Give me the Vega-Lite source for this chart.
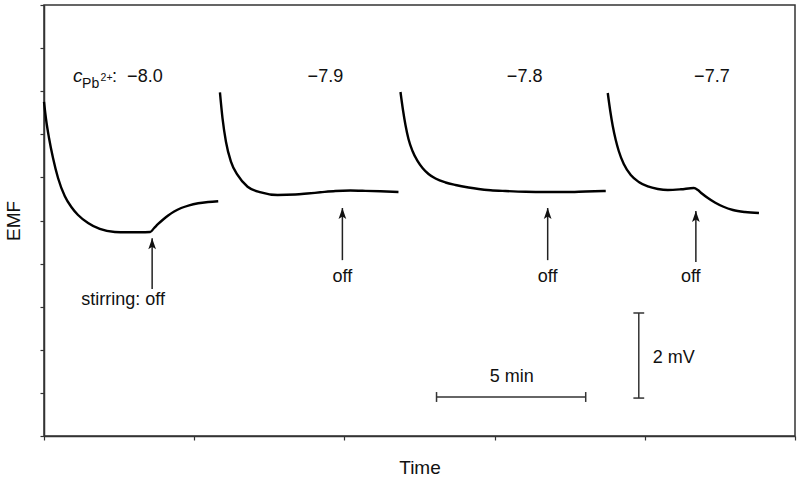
{
  "$schema": "https://vega.github.io/schema/vega-lite/v6.json",
  "width": 751,
  "height": 431,
  "autosize": {"type": "none"},
  "padding": {"left": 44, "top": 5, "right": 5, "bottom": 47},
  "background": "white",
  "config": {
    "font": "Liberation Sans",
    "view": {"stroke": "#333333", "strokeWidth": 1.5},
    "axis": {
      "grid": false,
      "labels": false,
      "domainColor": "#333333",
      "domainWidth": 1.5,
      "tickColor": "#333333",
      "tickWidth": 1.2,
      "tickSize": 4,
      "titleFont": "Liberation Sans",
      "titleFontSize": 19,
      "titleFontWeight": "normal",
      "titleColor": "#111111"
    }
  },
  "datasets": {
    "curves": [
      {"seg": 1, "t": 0, "v": 7.75}, {"seg": 1, "t": 0.067, "v": 7.355}, {"seg": 1, "t": 0.167, "v": 6.914},
      {"seg": 1, "t": 0.3, "v": 6.45}, {"seg": 1, "t": 0.467, "v": 5.986}, {"seg": 1, "t": 0.69, "v": 5.568},
      {"seg": 1, "t": 0.91, "v": 5.313}, {"seg": 1, "t": 1.133, "v": 5.128}, {"seg": 1, "t": 1.467, "v": 4.942},
      {"seg": 1, "t": 1.857, "v": 4.803}, {"seg": 1, "t": 2.357, "v": 4.733}, {"seg": 1, "t": 2.733, "v": 4.726},
      {"seg": 1, "t": 3.2, "v": 4.726}, {"seg": 1, "t": 3.533, "v": 4.733},
      {"seg": 1, "t": 3.667, "v": 4.826}, {"seg": 1, "t": 3.8, "v": 4.919}, {"seg": 1, "t": 3.967, "v": 5.023},
      {"seg": 1, "t": 4.133, "v": 5.116}, {"seg": 1, "t": 4.333, "v": 5.209}, {"seg": 1, "t": 4.567, "v": 5.29},
      {"seg": 1, "t": 4.833, "v": 5.353}, {"seg": 1, "t": 5.133, "v": 5.399}, {"seg": 1, "t": 5.467, "v": 5.429},
      {"seg": 1, "t": 5.8, "v": 5.448},
      {"seg": 2, "t": 5.857, "v": 7.975}, {"seg": 2, "t": 5.943, "v": 7.371}, {"seg": 2, "t": 6.057, "v": 6.828},
      {"seg": 2, "t": 6.223, "v": 6.364}, {"seg": 2, "t": 6.443, "v": 6.056}, {"seg": 2, "t": 6.777, "v": 5.784},
      {"seg": 2, "t": 7.223, "v": 5.654}, {"seg": 2, "t": 7.777, "v": 5.592}, {"seg": 2, "t": 8.367, "v": 5.603},
      {"seg": 2, "t": 8.767, "v": 5.626}, {"seg": 2, "t": 9.2, "v": 5.654}, {"seg": 2, "t": 9.7, "v": 5.684},
      {"seg": 2, "t": 10.2, "v": 5.695}, {"seg": 2, "t": 10.7, "v": 5.688}, {"seg": 2, "t": 11.2, "v": 5.677},
      {"seg": 2, "t": 11.8, "v": 5.661},
      {"seg": 3, "t": 11.867, "v": 7.981}, {"seg": 3, "t": 11.95, "v": 7.564}, {"seg": 3, "t": 12.033, "v": 7.216},
      {"seg": 3, "t": 12.133, "v": 6.891}, {"seg": 3, "t": 12.267, "v": 6.613}, {"seg": 3, "t": 12.433, "v": 6.381},
      {"seg": 3, "t": 12.6, "v": 6.218}, {"seg": 3, "t": 12.8, "v": 6.079}, {"seg": 3, "t": 13.033, "v": 5.974},
      {"seg": 3, "t": 13.367, "v": 5.882}, {"seg": 3, "t": 13.7, "v": 5.824}, {"seg": 3, "t": 14.133, "v": 5.766},
      {"seg": 3, "t": 14.467, "v": 5.731}, {"seg": 3, "t": 14.867, "v": 5.703}, {"seg": 3, "t": 15.367, "v": 5.684},
      {"seg": 3, "t": 16.033, "v": 5.666}, {"seg": 3, "t": 16.7, "v": 5.661}, {"seg": 3, "t": 17.367, "v": 5.661},
      {"seg": 3, "t": 18.033, "v": 5.673}, {"seg": 3, "t": 18.7, "v": 5.684},
      {"seg": 4, "t": 18.767, "v": 7.958}, {"seg": 4, "t": 18.85, "v": 7.541}, {"seg": 4, "t": 18.933, "v": 7.193},
      {"seg": 4, "t": 19.033, "v": 6.868}, {"seg": 4, "t": 19.133, "v": 6.613}, {"seg": 4, "t": 19.3, "v": 6.311},
      {"seg": 4, "t": 19.533, "v": 6.056}, {"seg": 4, "t": 19.8, "v": 5.893}, {"seg": 4, "t": 20.1, "v": 5.789},
      {"seg": 4, "t": 20.433, "v": 5.731}, {"seg": 4, "t": 20.767, "v": 5.708}, {"seg": 4, "t": 21.2, "v": 5.724},
      {"seg": 4, "t": 21.633, "v": 5.754}, {"seg": 4, "t": 21.767, "v": 5.708}, {"seg": 4, "t": 21.9, "v": 5.626},
      {"seg": 4, "t": 22.1, "v": 5.522}, {"seg": 4, "t": 22.333, "v": 5.418}, {"seg": 4, "t": 22.6, "v": 5.325},
      {"seg": 4, "t": 22.933, "v": 5.244}, {"seg": 4, "t": 23.333, "v": 5.197}, {"seg": 4, "t": 23.8, "v": 5.174}
    ],
    "arrows": [
      {"t": 3.6, "tip": 4.59, "tail": 3.41},
      {"t": 9.933, "tip": 5.29, "tail": 4.08},
      {"t": 16.767, "tip": 5.29, "tail": 4.08},
      {"t": 21.7, "tip": 5.22, "tail": 4.04}
    ],
    "bars": [
      {"x1": 13.067, "x2": 18.033, "y1": 0.905, "y2": 0.905},
      {"x1": 13.067, "x2": 13.067, "y1": 0.79, "y2": 1.02},
      {"x1": 18.033, "x2": 18.033, "y1": 0.79, "y2": 1.02},
      {"x1": 19.8, "x2": 19.8, "y1": 0.88, "y2": 2.854},
      {"x1": 19.62, "x2": 19.98, "y1": 2.854, "y2": 2.854},
      {"x1": 19.62, "x2": 19.98, "y1": 0.88, "y2": 0.88}
    ],
    "notes": [
      {"role": "center", "t": 2.633, "v": 3.05, "label": "stirring: off"},
      {"role": "center", "t": 9.933, "v": 3.58, "label": "off"},
      {"role": "center", "t": 16.767, "v": 3.58, "label": "off"},
      {"role": "center", "t": 21.53, "v": 3.58, "label": "off"},
      {"role": "center", "t": 9.367, "v": 8.213, "label": "−7.9"},
      {"role": "center", "t": 16.0, "v": 8.213, "label": "−7.8"},
      {"role": "center", "t": 22.233, "v": 8.213, "label": "−7.7"},
      {"role": "center", "t": 15.567, "v": 1.253, "label": "5 min"},
      {"role": "left", "t": 20.267, "v": 1.694, "label": "2 mV"},
      {"role": "left", "t": 2.267, "v": 8.213, "label": ":"},
      {"role": "left", "t": 2.767, "v": 8.213, "label": "−8.0"},
      {"role": "italic", "t": 0.967, "v": 8.213, "label": "c"},
      {"role": "sub", "t": 1.267, "v": 8.074, "label": "Pb"},
      {"role": "sup", "t": 1.883, "v": 8.237, "label": "2+"}
    ]
  },
  "encoding": {
    "x": {"type": "quantitative", "scale": {"domain": [0, 25], "nice": false, "zero": false}, "axis": {"values": [0, 5, 10, 15, 20, 25], "title": "Time", "titlePadding": 18}},
    "y": {"type": "quantitative", "scale": {"domain": [0, 10], "nice": false}, "axis": {"values": [0, 1, 2, 3, 4, 5, 6, 7, 8, 9, 10], "title": "EMF", "titlePadding": 16}}
  },
  "layer": [
    {
      "data": {"name": "curves"},
      "mark": {"type": "line", "color": "black", "strokeWidth": 2.4, "interpolate": "monotone"},
      "encoding": {"x": {"field": "t"}, "y": {"field": "v"}, "detail": {"field": "seg", "type": "nominal"}}
    },
    {
      "data": {"name": "arrows"},
      "mark": {"type": "rule", "color": "#222222", "strokeWidth": 1.5},
      "encoding": {"x": {"field": "t"}, "y": {"field": "tail"}, "y2": {"field": "tip"}}
    },
    {
      "data": {"name": "arrows"},
      "mark": {"type": "point", "shape": "M0,0L0.7,2L0,1.55L-0.7,2Z", "size": 121, "filled": true, "color": "#111111", "opacity": 1},
      "encoding": {"x": {"field": "t"}, "y": {"field": "tip"}}
    },
    {
      "data": {"name": "bars"},
      "mark": {"type": "rule", "color": "#333333", "strokeWidth": 1.5},
      "encoding": {"x": {"field": "x1"}, "x2": {"field": "x2"}, "y": {"field": "y1"}, "y2": {"field": "y2"}}
    },
    {
      "data": {"name": "notes"},
      "transform": [{"filter": "datum.role === 'center'"}],
      "mark": {"type": "text", "align": "center", "baseline": "alphabetic", "fontSize": 18, "color": "#111111"},
      "encoding": {"x": {"field": "t"}, "y": {"field": "v"}, "text": {"field": "label"}}
    },
    {
      "data": {"name": "notes"},
      "transform": [{"filter": "datum.role === 'left'"}],
      "mark": {"type": "text", "align": "left", "baseline": "alphabetic", "fontSize": 18, "color": "#111111"},
      "encoding": {"x": {"field": "t"}, "y": {"field": "v"}, "text": {"field": "label"}}
    },
    {
      "data": {"name": "notes"},
      "transform": [{"filter": "datum.role === 'italic'"}],
      "mark": {"type": "text", "align": "left", "baseline": "alphabetic", "fontSize": 19, "fontStyle": "italic", "color": "#111111"},
      "encoding": {"x": {"field": "t"}, "y": {"field": "v"}, "text": {"field": "label"}}
    },
    {
      "data": {"name": "notes"},
      "transform": [{"filter": "datum.role === 'sub'"}],
      "mark": {"type": "text", "align": "left", "baseline": "alphabetic", "fontSize": 14, "color": "#111111"},
      "encoding": {"x": {"field": "t"}, "y": {"field": "v"}, "text": {"field": "label"}}
    },
    {
      "data": {"name": "notes"},
      "transform": [{"filter": "datum.role === 'sup'"}],
      "mark": {"type": "text", "align": "left", "baseline": "alphabetic", "fontSize": 10.5, "color": "#111111"},
      "encoding": {"x": {"field": "t"}, "y": {"field": "v"}, "text": {"field": "label"}}
    }
  ]
}
